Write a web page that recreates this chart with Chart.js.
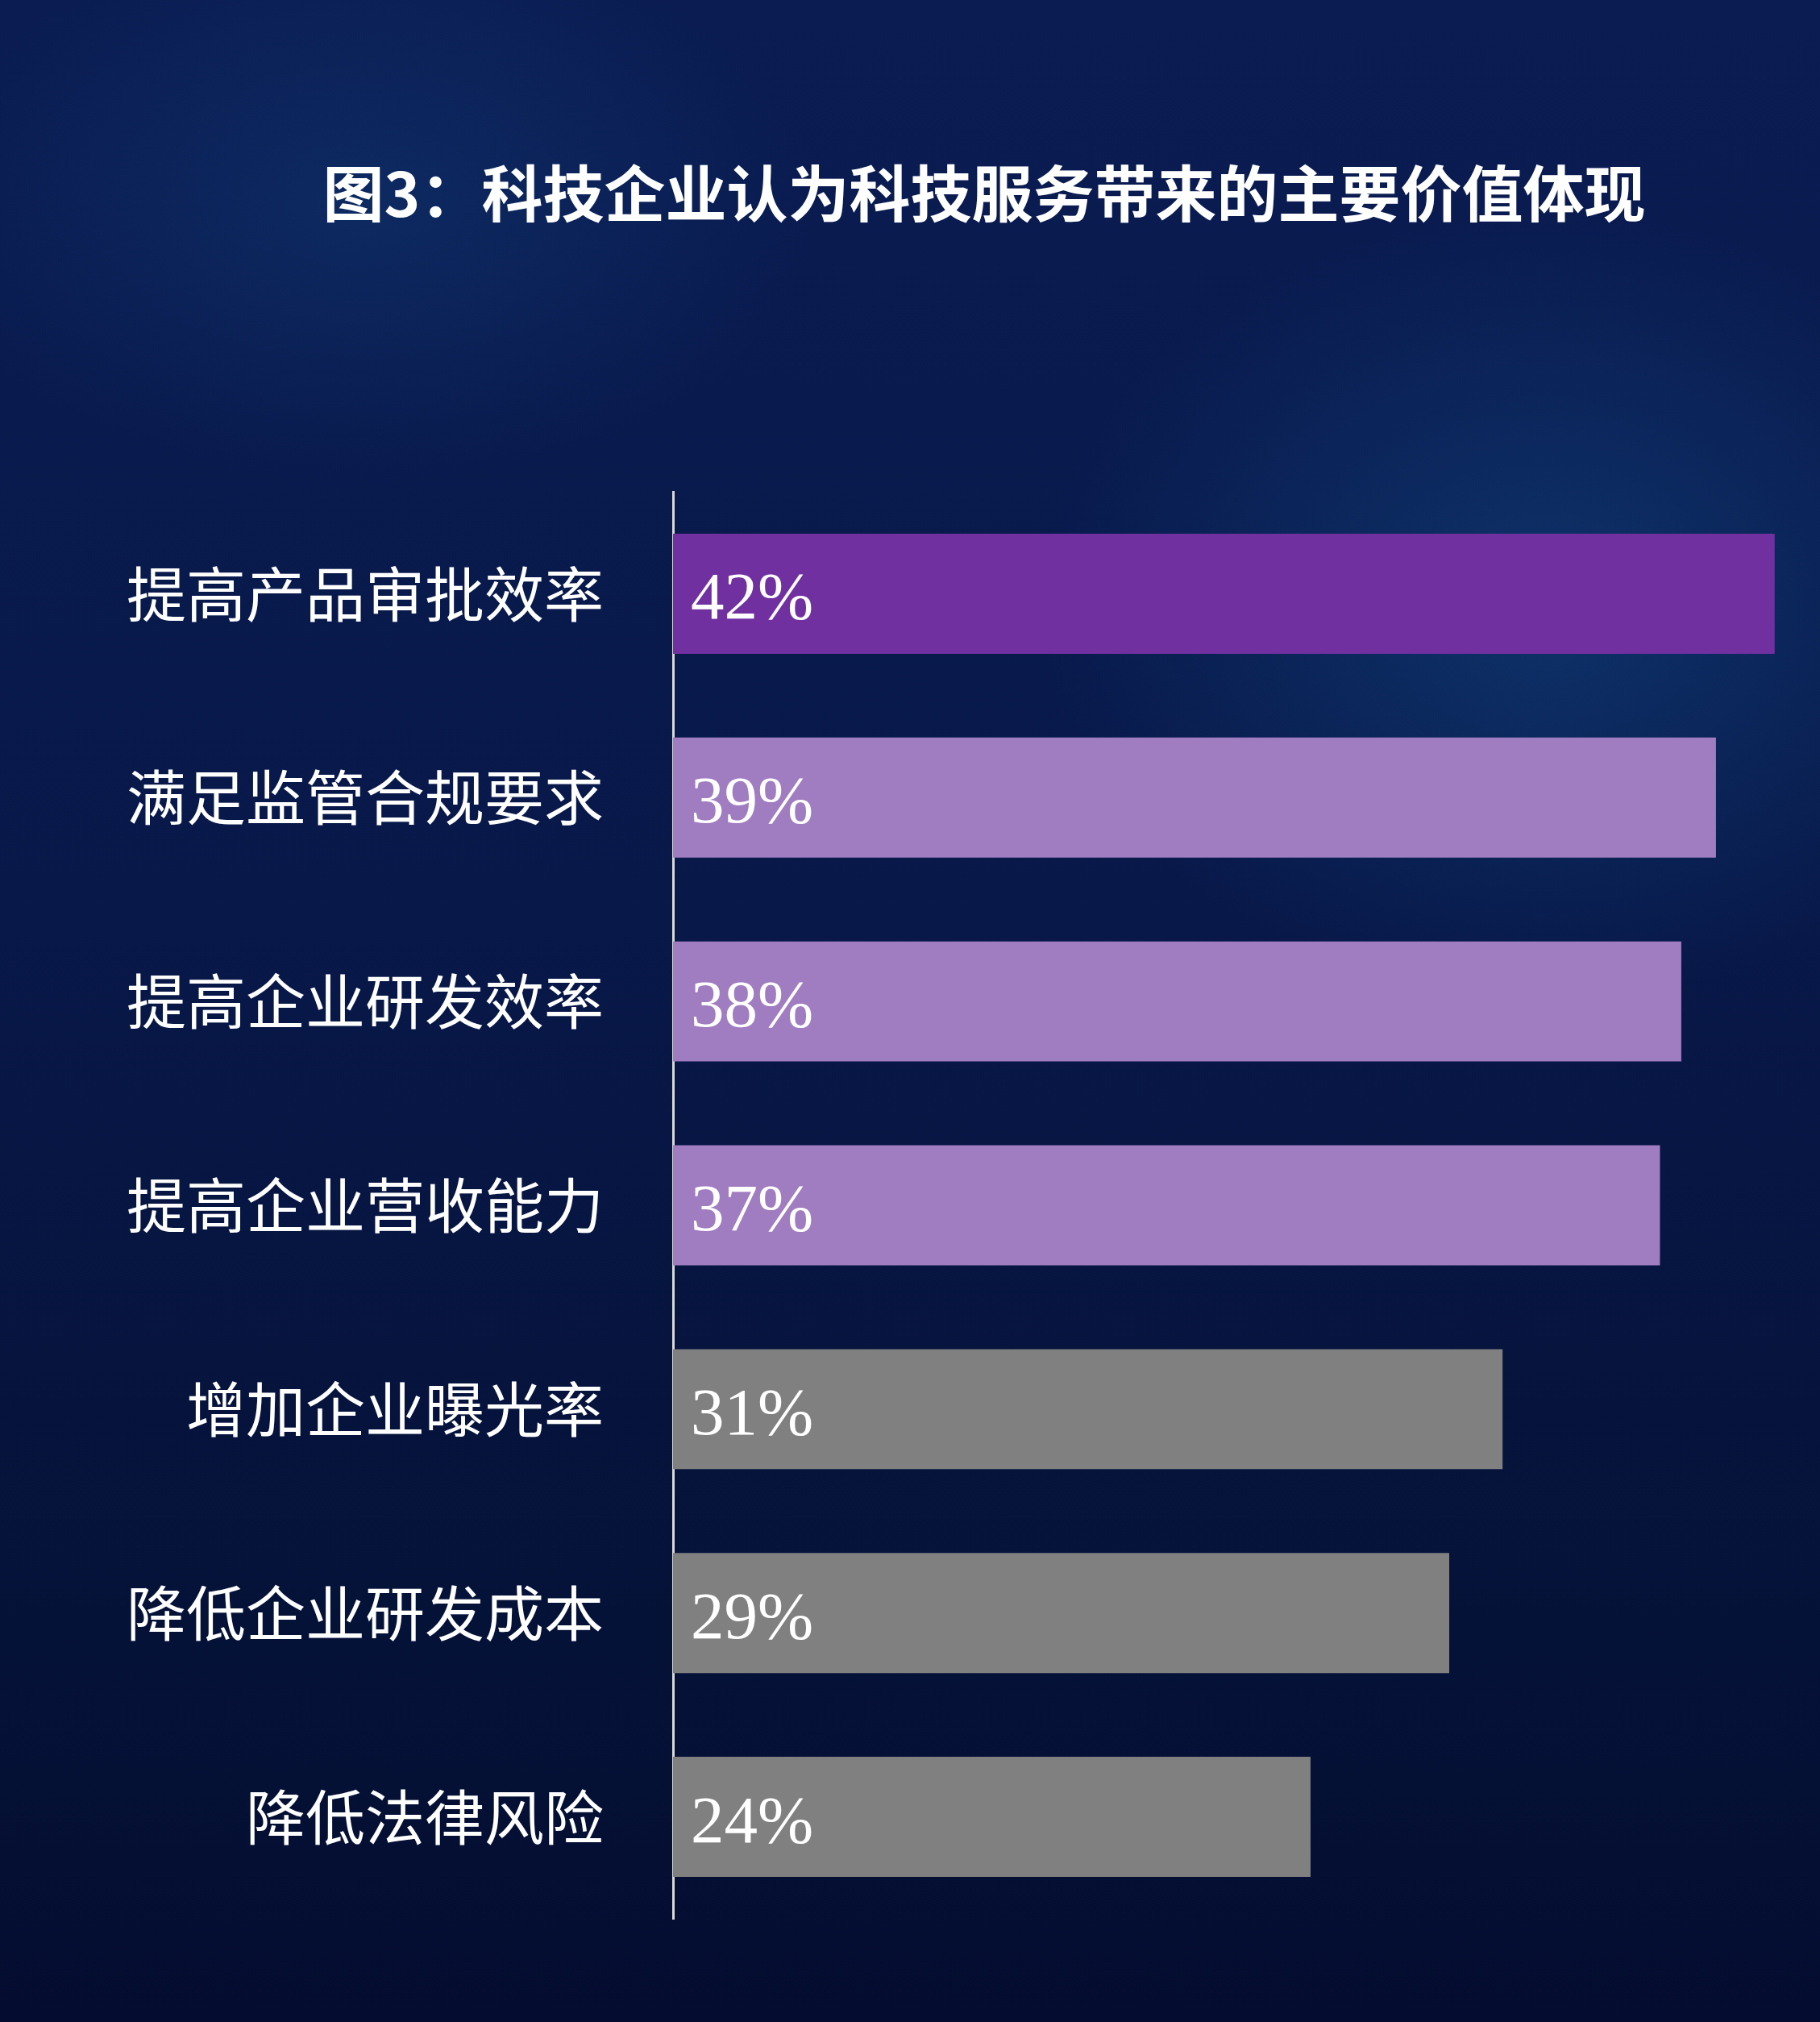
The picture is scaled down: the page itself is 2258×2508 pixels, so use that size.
<!DOCTYPE html>
<html>
<head>
<meta charset="utf-8">
<script src="https://cdn.jsdelivr.net/npm/chart.js@4/dist/chart.umd.min.js"></script>
<style>
  html, body { margin: 0; padding: 0; }
  body {
    width: 2258px;
    height: 2508px;
    overflow: hidden;
    background:
      radial-gradient(ellipse 900px 700px at 85% 30%, rgba(20, 80, 140, 0.45), rgba(20, 80, 140, 0) 70%),
      radial-gradient(ellipse 800px 500px at 20% 10%, rgba(20, 70, 130, 0.35), rgba(20, 70, 130, 0) 70%),
      linear-gradient(180deg, #0a1c52 0%, #081849 45%, #051238 80%, #040d30 100%);
  }
  #wrap { position: absolute; left: 0; top: 0; width: 2258px; height: 2508px; }
</style>
</head>
<body>
<div id="wrap"><canvas id="myChart" width="2258" height="2508"></canvas></div>
<script>
const titleText = "图3：科技企业认为科技服务带来的主要价值体现";
const categories = ["提高产品审批效率", "满足监管合规要求", "提高企业研发效率", "提高企业营收能力", "增加企业曝光率", "降低企业研发成本", "降低法律风险"];
const values = [41.3, 39.1, 37.8, 37.0, 31.1, 29.1, 23.9];
const valueLabels = ["42%", "39%", "38%", "37%", "31%", "29%", "24%"];
const barColors = ["#7030a0", "#a07cc0", "#a07cc0", "#a07cc0", "#808080", "#808080", "#808080"];

// title sits off-centre in the original, so draw it ourselves
const titlePlugin = {
    id: "offsetTitle",
    afterDraw(chart) {
        const ctx = chart.ctx;
        ctx.save();
        ctx.fillStyle = "#ffffff";
        ctx.font = "bold 76px 'Noto Sans CJK SC', sans-serif";
        ctx.textAlign = "center";
        ctx.textBaseline = "middle";
        ctx.fillText(titleText, 1221, 240);
        ctx.restore();
    }
};

const valueLabelPlugin = {
    id: "valueLabels",
    afterDatasetsDraw(chart) {
        const ctx = chart.ctx;
        const meta = chart.getDatasetMeta(0);
        ctx.save();
        ctx.fillStyle = "#ffffff";
        ctx.font = "83px 'Liberation Serif', 'Times New Roman', serif";
        ctx.textAlign = "left";
        ctx.textBaseline = "alphabetic";
        meta.data.forEach((bar, i) => {
            ctx.fillText(valueLabels[i], bar.base + 22, bar.y + 31);
        });
        ctx.restore();
    }
};

new Chart("myChart", {
    type: "bar",
    data: {
        labels: categories,
        datasets: [{
            data: values,
            backgroundColor: barColors,
            borderWidth: 0,
            barPercentage: 0.589,
            categoryPercentage: 1
        }]
    },
    options: {
        indexAxis: "y",
        responsive: false,
        animation: false,
        devicePixelRatio: 1,
        layout: {
            padding: { top: 610, left: 0, right: 0, bottom: 128 }
        },
        scales: {
            x: {
                display: false,
                min: 0,
                max: 43
            },
            y: {
                grid: { display: false },
                border: { display: true, color: "#d9d9d9", width: 3 },
                ticks: {
                    color: "#ffffff",
                    padding: 78,
                    font: { family: "'Noto Sans CJK SC', sans-serif", size: 74 }
                },
                afterFit: scale => { scale.width = 835; }
            }
        },
        plugins: {
            legend: { display: false },
            tooltip: { enabled: false },
            title: { display: false }
        }
    },
    plugins: [valueLabelPlugin, titlePlugin]
});
</script>
</body>
</html>
